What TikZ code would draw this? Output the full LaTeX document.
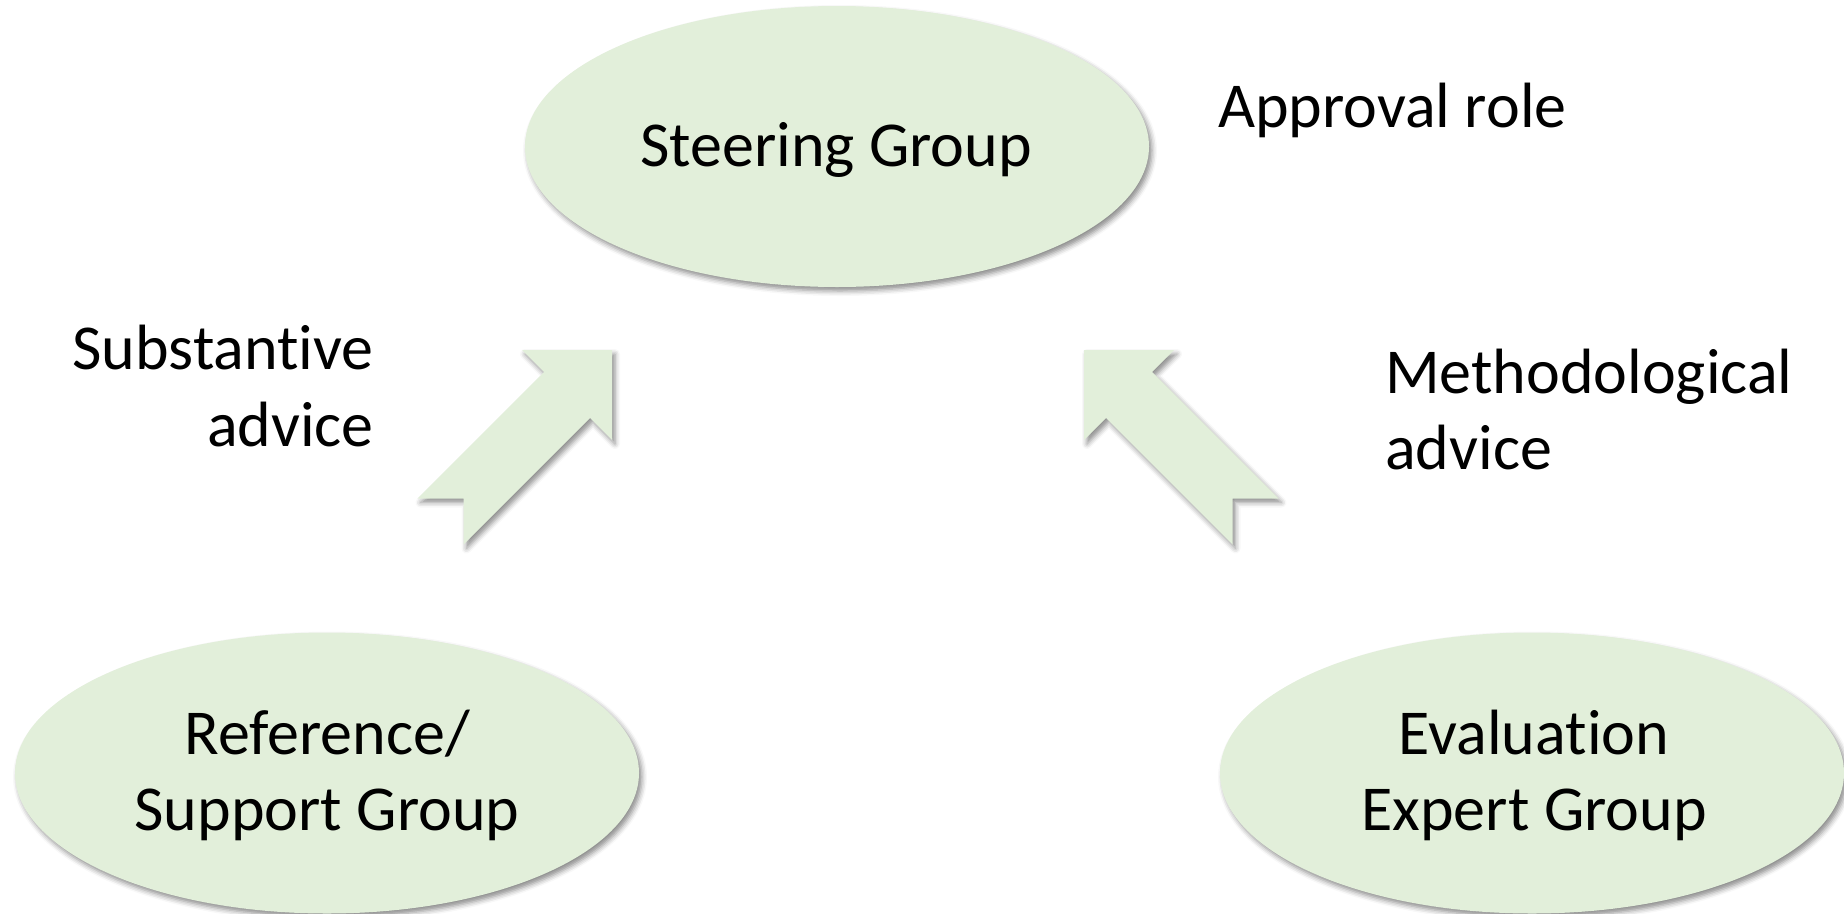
\documentclass[tikz,border=0pt]{standalone}
\usepackage{fontspec}
\setmainfont{Carlito}[Ligatures={NoCommon}]
\usetikzlibrary{shapes.geometric,shadows.blur}
\definecolor{groupfill}{HTML}{E2EFDA}
\newcommand\ctrlines[1]{\vtop{\halign{\hfil##\hfil\cr#1\crcr}}}
\newcommand\rgtlines[1]{\vtop{\halign{\hfil##\cr#1\crcr}}}
\newcommand\lftlines[1]{\vtop{\halign{##\hfil\cr#1\crcr}}}
\tikzset{
  softshadow/.style={blur shadow={shadow xshift=3pt, shadow yshift=-4pt, shadow blur radius=5pt, shadow opacity=45}},
  groupell/.style={ellipse, fill=groupfill, minimum width=624pt, minimum height=281pt, inner sep=0pt, softshadow},
  blockarrow/.style={fill=groupfill, softshadow},
  lbl/.style={inner sep=0pt, font=\fontsize{64}{76}\selectfont},
}
\begin{document}
\begin{tikzpicture}[x=1pt,y=-1pt]
\useasboundingbox (0,0) rectangle (1844,913);
% group ellipses
\node[groupell] (steer) at (837,146.5) {};
\node[groupell] (ref)   at (327,773) {};
\node[groupell] (eval)  at (1532,773) {};
% labels inside ellipses
\node[lbl, anchor=base] (steertxt) at (836,166) {Steering Group};
\node[lbl, anchor=base] (reftxt) at (327,754) {\ctrlines{Reference/\cr Support Group}};
\node[lbl, anchor=base] (evaltxt) at (1534,754) {\ctrlines{Evaluation\cr Expert Group}};
% block arrows
\path[blockarrow] (612,350) -- (612,440) -- (590,418) -- (463.5,544.5) -- (463.5,498.5)
   -- (417.5,498.5) -- (544,372) -- (522,350) -- cycle;
\path[blockarrow] (1084,350) -- (1084,440) -- (1106,418) -- (1232.5,544.5) -- (1232.5,498.5)
   -- (1278.5,498.5) -- (1152,372) -- (1174,350) -- cycle;
% side labels
\node[lbl, anchor=base west] (approval) at (1218,127) {Approval role};
\node[lbl, font=\fontsize{64}{77}\selectfont, anchor=base east] (subst) at (374,369) {\rgtlines{Substantive\cr advice}};
\node[lbl, anchor=base west] (method) at (1385,393) {\lftlines{Methodological\cr advice}};
\end{tikzpicture}
\end{document}
